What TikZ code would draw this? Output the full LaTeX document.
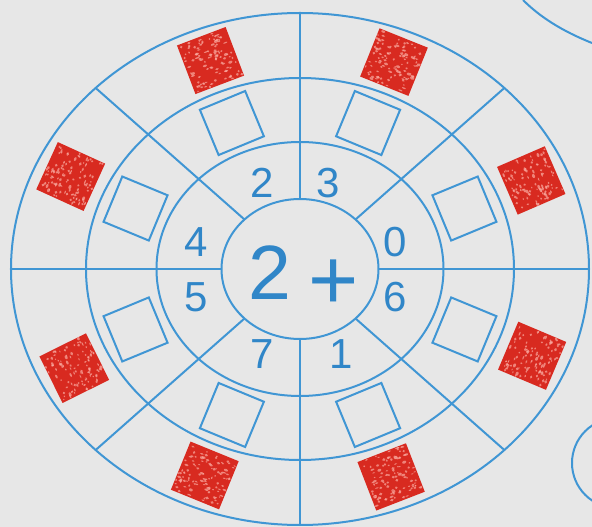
\documentclass[tikz,border=0pt]{standalone}
\usepackage{fontspec}
\setmainfont{Liberation Sans}
\definecolor{bgcol}{RGB}{231,231,231}
\definecolor{lineblue}{RGB}{64,150,212}
\definecolor{textblue}{RGB}{48,134,200}
\definecolor{redfill}{RGB}{216,42,32}
\definecolor{speckcol}{RGB}{250,170,160}
\begin{document}
\begin{tikzpicture}[x=1pt,y=1pt,
  ring/.style={draw=lineblue, line width=2pt},
  spoke/.style={draw=lineblue, line width=2pt},
  emptysq/.style={draw=lineblue, line width=2pt, minimum size=49pt, inner sep=0pt},
  redsq/.style={fill=redfill, minimum size=52pt, inner sep=0pt},
  speck/.style={fill=speckcol, opacity=0.7},
  digit/.style={text=textblue, font=\fontsize{42}{42}\selectfont, inner sep=0pt},
  bigtext/.style={text=textblue, inner sep=0pt}]
\useasboundingbox (-300,-258) rectangle (292,269);
\fill[bgcol] (-300,-258) rectangle (292,269);
\clip (-300,-258) rectangle (292,269);

% neighbouring figures cut off at the edge
\draw[ring] (223,269) .. controls (240,252) and (262,238) .. (292,226);
\draw[ring] (317,-194) circle [radius=45];

% rings
\draw[ring] (0,0) ellipse [x radius=289, y radius=256];
\draw[ring] (0,0) ellipse [x radius=214, y radius=191];
\draw[ring] (0,0) ellipse [x radius=143.5, y radius=127];
\draw[ring] (0,0) ellipse [x radius=78.5, y radius=70];

% spokes
\foreach \a in {0,45,...,315} {
  \coordinate (in\a) at (\a:78.5 and 70);
  \coordinate (out\a) at (\a:289 and 256);
  \draw[spoke] (in\a) -- (out\a);
}

% empty boxes
\foreach \a [count=\i] in {22.5,67.5,112.5,157.5,202.5,247.5,292.5,337.5} {
  \node[emptysq, rotate=\a-90] (e\i) at (\a:178 and 158) {};
}

% red coloured boxes
\pgfmathsetseed{7}
\foreach \a [count=\i] in {23.4,68.1,110.8,155.5,206.4,247.8,291.2,337.1} {
  \node[redsq, rotate=\a-90] (r\i) at (\a:252 and 223) {};
  \begin{scope}[shift={(r\i.center)}, rotate=\a-90]
    \clip (-26,-26) rectangle (26,26);
    \foreach \k in {1,...,110} {
      \fill[speck] ({rand*25},{rand*25}) ellipse [x radius={0.8+rnd*1.4}, y radius={0.6+rnd*0.9}];
    }
  \end{scope}
}

% numbers
\node[digit] (n2) at (-38,86) {2};
\node[digit] (n3) at (28,86) {3};
\node[digit] (n0) at (95,27) {0};
\node[digit] (n6) at (95,-28) {6};
\node[digit] (n1) at (41,-85) {1};
\node[digit] (n7) at (-38,-85) {7};
\node[digit] (n4) at (-104,27) {4};
\node[digit] (n5) at (-104,-28) {5};
\node[bigtext, font=\fontsize{77}{77}\selectfont] (big2) at (-30,-3.5) {2};
\node[bigtext, font=\fontsize{86}{86}\selectfont] (plus) at (34,-16) {+};
\end{tikzpicture}
\end{document}
